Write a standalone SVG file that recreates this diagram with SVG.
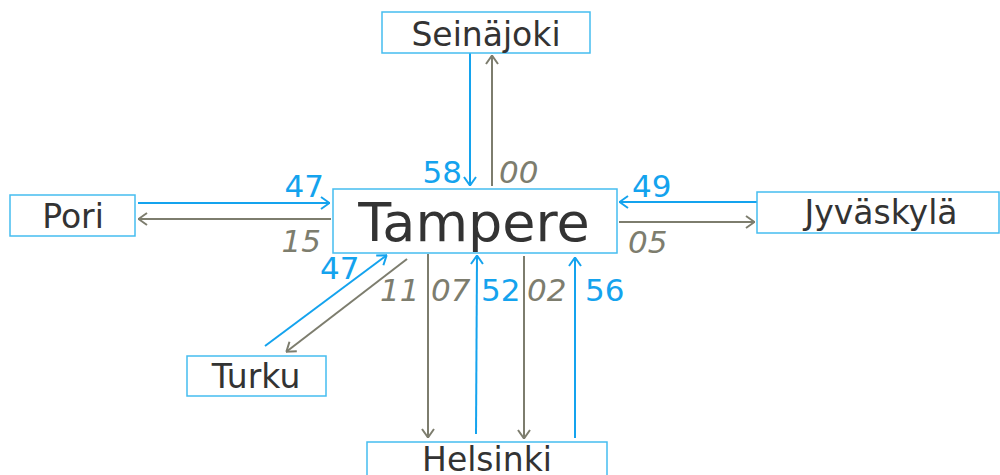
<svg xmlns="http://www.w3.org/2000/svg" width="1000" height="475" viewBox="0 0 1000 475">
  <defs>
    <style>
      .box { fill: #ffffff; stroke: #45bdf0; stroke-width: 1.5; }
      .name { font-family: "DejaVu Sans", Verdana, sans-serif; font-size: 33px; fill: #333333; text-anchor: middle; }
      .hub { font-size: 54px; }
      .in { stroke: #14a3ee; stroke-width: 2; fill: none; }
      .out { stroke: #7d7d6e; stroke-width: 2; fill: none; }
      .tin { font-family: "DejaVu Sans", Verdana, sans-serif; font-size: 31px; fill: #14a3ee; }
      .tout { font-family: "DejaVu Sans", Verdana, sans-serif; font-size: 31px; fill: #7d7d6e; font-style: italic; }
    </style>
    <marker id="headIn" viewBox="0 0 10 14" refX="10" refY="7" markerWidth="10" markerHeight="14" markerUnits="userSpaceOnUse" orient="auto">
      <path d="M1,1 L9.5,7 L1,13" fill="none" stroke="#14a3ee" stroke-width="2"/>
    </marker>
    <marker id="headOut" viewBox="0 0 10 14" refX="10" refY="7" markerWidth="10" markerHeight="14" markerUnits="userSpaceOnUse" orient="auto">
      <path d="M1,1 L9.5,7 L1,13" fill="none" stroke="#7d7d6e" stroke-width="2"/>
    </marker>
  </defs>

  <rect width="1000" height="475" fill="#ffffff"/>

  <!-- connectors: blue = arrivals to Tampere, grey = departures -->
  <g id="connectors">
    <line class="in" x1="470" y1="53" x2="470" y2="186" marker-end="url(#headIn)"/>
    <line class="out" x1="492" y1="186" x2="492" y2="55" marker-end="url(#headOut)"/>

    <line class="in" x1="138" y1="203" x2="330" y2="203" marker-end="url(#headIn)"/>
    <line class="out" x1="331" y1="219" x2="138" y2="219" marker-end="url(#headOut)"/>

    <line class="in" x1="757" y1="202" x2="619" y2="202" marker-end="url(#headIn)"/>
    <line class="out" x1="619" y1="222" x2="755" y2="222" marker-end="url(#headOut)"/>

    <line class="in" x1="265" y1="346" x2="387" y2="255" marker-end="url(#headIn)"/>
    <line class="out" x1="407" y1="259" x2="286" y2="352" marker-end="url(#headOut)"/>

    <line class="out" x1="428" y1="254" x2="428" y2="438" marker-end="url(#headOut)"/>
    <line class="in" x1="476" y1="434" x2="477" y2="255" marker-end="url(#headIn)"/>
    <line class="out" x1="524" y1="256" x2="524" y2="439" marker-end="url(#headOut)"/>
    <line class="in" x1="575" y1="438" x2="575" y2="257" marker-end="url(#headIn)"/>
  </g>

  <!-- times (minutes past the hour) -->
  <g id="labels">
    <text class="tin" x="462" y="183" text-anchor="end">58</text>
    <text class="tout" x="499" y="183">00</text>
    <text class="tin" x="324" y="197" text-anchor="end">47</text>
    <text class="tout" x="321" y="252" text-anchor="end">15</text>
    <text class="tin" x="632" y="197">49</text>
    <text class="tout" x="628" y="253">05</text>
    <text class="tin" x="320" y="279">47</text>
    <text class="tout" x="380" y="301">11</text>
    <text class="tout" x="431" y="301">07</text>
    <text class="tin" x="481" y="301">52</text>
    <text class="tout" x="527" y="301">02</text>
    <text class="tin" x="585" y="301">56</text>
  </g>

  <g id="node-seinajoki">
    <rect class="box" x="382" y="12" width="208" height="41"/>
    <text class="name" x="486" y="46">Seinäjoki</text>
  </g>
  <g id="node-tampere">
    <rect class="box" x="333" y="189" width="284" height="64"/>
    <text class="name hub" x="474" y="241">Tampere</text>
  </g>
  <g id="node-pori">
    <rect class="box" x="10" y="195" width="125" height="41"/>
    <text class="name" x="73" y="228">Pori</text>
  </g>
  <g id="node-jyvaskyla">
    <rect class="box" x="757" y="192" width="242" height="41"/>
    <text class="name" x="881" y="224">Jyväskylä</text>
  </g>
  <g id="node-turku">
    <rect class="box" x="187" y="356" width="139" height="40"/>
    <text class="name" x="256" y="388">Turku</text>
  </g>
  <g id="node-helsinki">
    <rect class="box" x="367" y="442" width="240" height="45"/>
    <text class="name" x="487" y="471">Helsinki</text>
  </g>
</svg>
